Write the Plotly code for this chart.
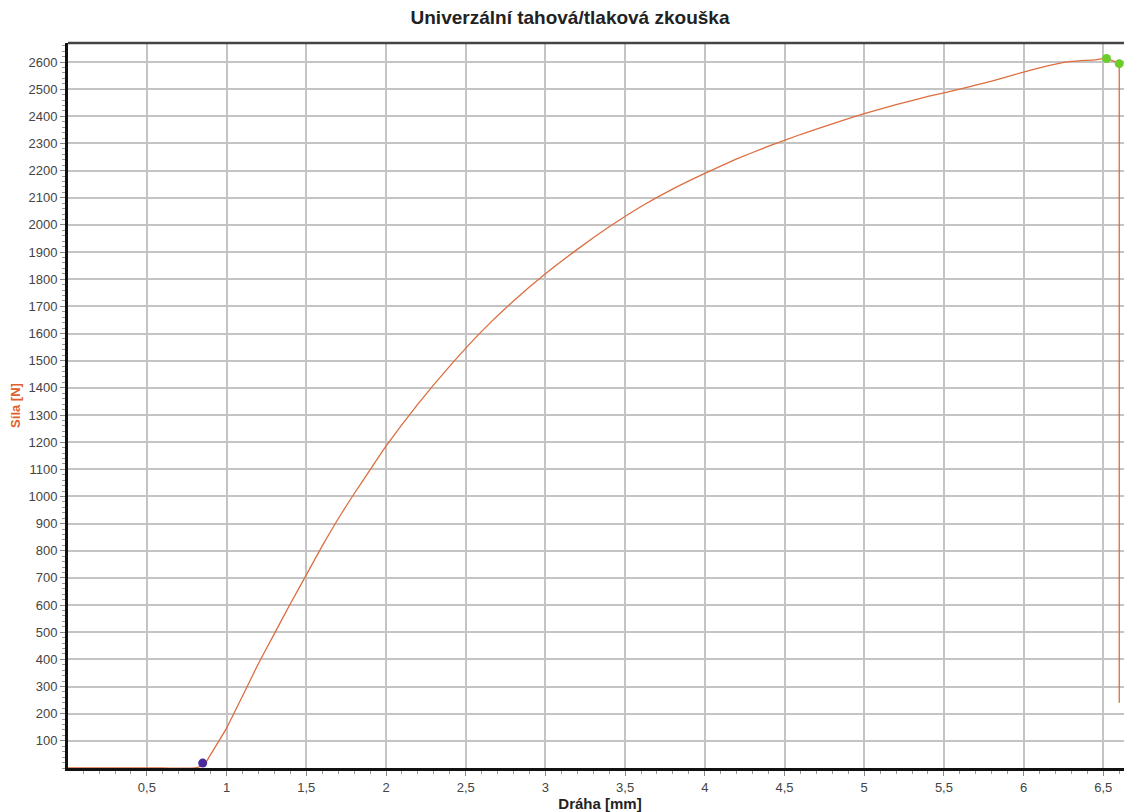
import plotly.graph_objects as go

# ---- data ----
draha_mm = [0.005, 0.3, 0.6, 0.80, 0.86, 0.9, 1.0, 1.1, 1.2, 1.3, 1.4, 1.5, 1.6, 1.7, 1.8, 1.9,
            2.0, 2.2, 2.4, 2.6, 2.8, 3.0, 3.2, 3.4, 3.6, 3.8, 4.0, 4.2, 4.4, 4.6,
            4.8, 5.0, 5.2, 5.4, 5.6, 5.8, 6.0, 6.2, 6.3, 6.45, 6.52, 6.60, 6.60]
sila_n = [0, 0, 0, 0, 12, 50, 147, 265, 385, 495, 605, 711, 818, 918, 1010, 1098,
          1185, 1340, 1480, 1608, 1720, 1820, 1910, 1993, 2068, 2133, 2190, 2243, 2290, 2333,
          2372, 2410, 2443, 2473, 2500, 2530, 2563, 2592, 2602, 2608, 2613, 2594, 240]

start_pt_x = [0.85]
start_pt_y = [18]
end_pts_x = [6.52, 6.60]
end_pts_y = [2613, 2594]

x_tickvals = [0.5, 1, 1.5, 2, 2.5, 3, 3.5, 4, 4.5, 5, 5.5, 6, 6.5]
x_ticktext = ["0,5", "1", "1,5", "2", "2,5", "3", "3,5", "4", "4,5", "5", "5,5", "6", "6,5"]
y_tickvals = list(range(100, 2700, 100))
y_ticktext = [str(v) for v in y_tickvals]

title_text = "Univerzální tahová/tlaková zkouška"
x_title = "Dráha [mm]"
y_title = "Síla [N]"

LINE = "#dc6e40"

fig = go.Figure()
# smooth loading curve (everything up to the break point)
fig.add_trace(go.Scatter(x=draha_mm[:-1], y=sila_n[:-1], mode="lines",
                         line=dict(color=LINE, width=1.3, shape="spline", smoothing=0.4),
                         showlegend=False))
# straight drop after the break
fig.add_trace(go.Scatter(x=draha_mm[-2:], y=sila_n[-2:], mode="lines",
                         line=dict(color=LINE, width=1.3), showlegend=False))
fig.add_trace(go.Scatter(x=start_pt_x, y=start_pt_y, mode="markers",
                         marker=dict(color="#4a2a9c", size=9), showlegend=False))
fig.add_trace(go.Scatter(x=end_pts_x, y=end_pts_y, mode="markers",
                         marker=dict(color="#6ccc2a", size=9), showlegend=False))

# page body adds an 8px offset, so the figure is 8px smaller in each direction
fig.update_layout(
    width=1124, height=804,
    margin=dict(l=60, r=0, t=35, b=44),
    paper_bgcolor="white", plot_bgcolor="white",
    font=dict(family="Liberation Sans, Arial, sans-serif", color="#333"),
    title=dict(text=title_text, x=0.5, xanchor="center", y=0.988, yanchor="middle",
               font=dict(size=19, color="#222", family="Liberation Sans, Arial, sans-serif", weight="bold")),
)

fig.update_xaxes(
    range=[0.005, 6.68],
    tickvals=x_tickvals, ticktext=x_ticktext,
    tickfont=dict(size=13, color="#444"),
    showgrid=True, gridcolor="#c4c4c4", gridwidth=1.5,
    showline=True, linecolor="#111", linewidth=3,
    mirror=False, zeroline=False,
    ticks="outside", ticklen=5, tickcolor="#888",
    minor=dict(ticks="outside", ticklen=3, dtick=0.1, tickcolor="#999", showgrid=False),
    title=dict(text=x_title, standoff=0, font=dict(size=15, color="#222", weight="bold")),
)

fig.update_yaxes(
    range=[0, 2670],
    tickvals=y_tickvals, ticktext=y_ticktext,
    tickfont=dict(size=13, color="#444"),
    showgrid=True, gridcolor="#c4c4c4", gridwidth=1.5,
    showline=True, linecolor="#111", linewidth=3,
    zeroline=False,
    ticks="outside", ticklen=5, tickcolor="#888",
    minor=dict(ticks="outside", ticklen=3, dtick=20, tickcolor="#999", showgrid=False),
    title=dict(text=y_title, standoff=6, font=dict(size=13, color="#e0602c", weight="bold")),
)

# top border of the plot area
fig.add_shape(type="line", xref="paper", yref="paper", x0=0, x1=1, y0=1, y1=1,
              line=dict(color="#444", width=2.5))

fig.write_html("out.html")
